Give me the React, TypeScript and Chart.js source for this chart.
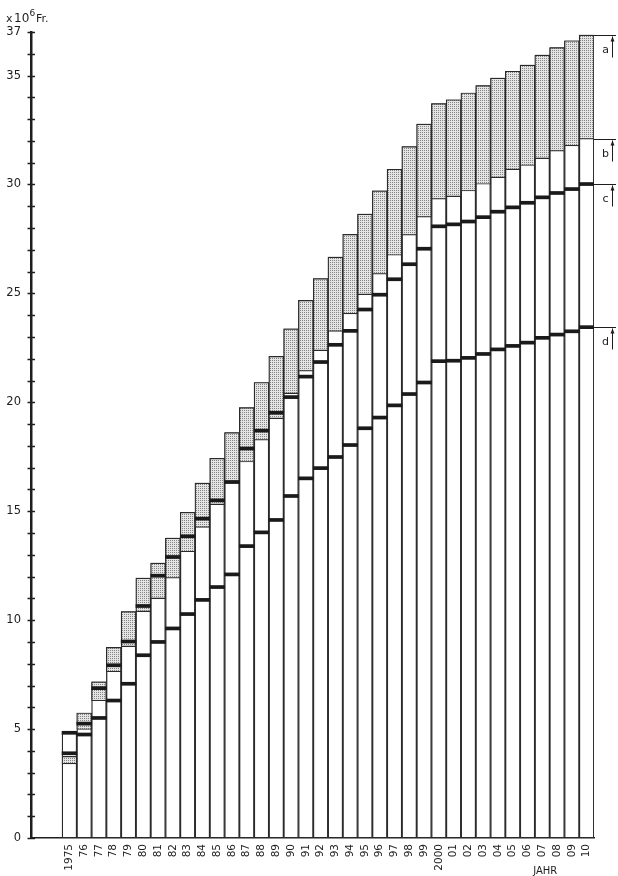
import React, { useEffect, useRef } from 'react';
import { Chart, registerables } from 'chart.js';

Chart.register(...registerables);

// ---- data (values in 10^6 Fr.) ----
const yearLabels = [
  '1975', '76', '77', '78', '79', '80', '81', '82', '83', '84', '85', '86',
  '87', '88', '89', '90', '91', '92', '93', '94', '95', '96', '97', '98', '99',
  '2000', '01', '02', '03', '04', '05', '06', '07', '08', '09', '10',
];

// a: top of the dotted band
const seriesA = [
  3.75, 5.74, 7.17, 8.75, 10.39, 11.93, 12.62, 13.77, 14.95, 16.29, 17.43, 18.61,
  19.76, 20.91, 22.11, 23.37, 24.68, 25.68, 26.67, 27.71, 28.64, 29.71, 30.70, 31.74, 32.77,
  33.71, 33.89, 34.20, 34.54, 34.88, 35.20, 35.48, 35.94, 36.28, 36.60, 36.86,
];
// b: bottom of the dotted band (thin line)
const seriesB = [
  3.40, 4.98, 6.30, 7.63, 8.78, 10.39, 10.99, 11.93, 13.14, 14.26, 15.30, 16.36,
  17.26, 18.26, 19.25, 20.40, 21.43, 22.37, 23.26, 24.06, 24.94, 25.88, 26.75, 27.67, 28.50,
  29.33, 29.44, 29.70, 30.01, 30.31, 30.68, 30.87, 31.19, 31.53, 31.77, 32.08,
];
// c: upper thick line
const seriesC = [
  3.89, 5.25, 6.88, 7.93, 9.02, 10.65, 12.04, 12.90, 13.85, 14.66, 15.50, 16.34,
  17.88, 18.70, 19.52, 20.24, 21.18, 21.85, 22.64, 23.28, 24.26, 24.94, 25.65, 26.34, 27.05,
  28.08, 28.17, 28.30, 28.50, 28.75, 28.95, 29.16, 29.41, 29.61, 29.79, 30.02,
];
// d: lower thick line
const seriesD = [
  4.83, 4.75, 5.51, 6.31, 7.08, 8.39, 9.00, 9.62, 10.28, 10.93, 11.52, 12.10,
  13.40, 14.03, 14.60, 15.70, 16.51, 16.98, 17.49, 18.04, 18.81, 19.30, 19.86, 20.38, 20.91,
  21.89, 21.91, 22.04, 22.22, 22.43, 22.59, 22.74, 22.96, 23.11, 23.26, 23.45,
];

const yTickValues = [0, 5, 10, 15, 20, 25, 30, 35, 37];
const yMax = 37;
const sideLabels = ['a', 'b', 'c', 'd'];
const unitText = { x: 'x', base: '10', exp: '6', unit: 'Fr.' };
const xAxisTitle = 'JAHR';

const INK = '#1e1e1e';
const FONT = '"DejaVu Sans", sans-serif';
const LINE_HALF = 0.07;

function makeStipple(ctx: CanvasRenderingContext2D) {
  const c = document.createElement('canvas');
  c.width = 2;
  c.height = 2;
  const g = c.getContext('2d')!;
  g.fillStyle = '#e4e4e4';
  g.fillRect(0, 0, 2, 2);
  g.fillStyle = '#858585';
  g.fillRect(0, 0, 1, 1);
  return ctx.createPattern(c, 'repeat');
}

const decorPlugin = {
  id: 'decor',
  afterDraw(chart: any) {
    const { ctx, chartArea, scales } = chart;
    const x = scales.x;
    const y = scales.y;
    ctx.save();
    // y axis tick marks crossing the axis
    ctx.strokeStyle = INK;
    ctx.lineWidth = 1.5;
    for (let v = 0; v <= yMax; v++) {
      const py = Math.round(y.getPixelForValue(v)) + 0.5;
      ctx.beginPath();
      ctx.moveTo(chartArea.left - 3.5, py);
      ctx.lineTo(chartArea.left + 4, py);
      ctx.stroke();
    }
    // unit label
    ctx.fillStyle = INK;
    ctx.textBaseline = 'alphabetic';
    ctx.textAlign = 'left';
    ctx.font = `11px ${FONT}`;
    ctx.fillText(unitText.x, 6, 22);
    ctx.font = `12px ${FONT}`;
    ctx.fillText(unitText.base, 14, 22);
    ctx.font = `9px ${FONT}`;
    ctx.fillText(unitText.exp, 29.5, 16);
    ctx.font = `11px ${FONT}`;
    ctx.fillText(unitText.unit, 36, 22);

    // side markers a..d
    const last = yearLabels.length - 1;
    const right = x.getPixelForValue(last + 0.5);
    const levels = [seriesA[last], seriesB[last], seriesC[last], seriesD[last]];
    ctx.lineWidth = 1;
    levels.forEach((v, k) => {
      const py = Math.round(y.getPixelForValue(v)) + 0.5;
      ctx.strokeStyle = INK;
      ctx.beginPath();
      ctx.moveTo(right, py);
      ctx.lineTo(right + 22, py);
      ctx.stroke();
      const ax = right + 18.5;
      ctx.beginPath();
      ctx.moveTo(ax, py + 22);
      ctx.lineTo(ax, py + 1);
      ctx.stroke();
      ctx.beginPath();
      ctx.moveTo(ax - 2, py + 6);
      ctx.lineTo(ax, py + 1);
      ctx.lineTo(ax + 2, py + 6);
      ctx.closePath();
      ctx.fillStyle = INK;
      ctx.fill();
      ctx.font = `11px ${FONT}`;
      ctx.textAlign = 'center';
      ctx.textBaseline = 'middle';
      ctx.fillText(sideLabels[k], right + 11.5, py + 15);
    });

    // x axis title
    ctx.font = `10px ${FONT}`;
    ctx.textAlign = 'center';
    ctx.textBaseline = 'alphabetic';
    ctx.fillText(xAxisTitle, x.getPixelForValue(32.2), 874);
    ctx.restore();
  },
};

export default function App() {
  const ref = useRef<HTMLCanvasElement | null>(null);

  useEffect(() => {
    document.body.style.margin = '0';
    const canvas = ref.current!;
    const ctx = canvas.getContext('2d')!;
    const stipple = makeStipple(ctx);

    const baseData = yearLabels.map((_, i) => ({
      x: i,
      y: [0, Math.max(seriesA[i], seriesC[i], seriesD[i])],
    }));
    const bandData = yearLabels.map((_, i) => ({ x: i, y: [seriesB[i], seriesA[i]] }));
    const cData = yearLabels.map((_, i) => ({ x: i, y: [seriesC[i] - LINE_HALF, seriesC[i] + LINE_HALF] }));
    const dData = yearLabels.map((_, i) => ({ x: i, y: [seriesD[i] - LINE_HALF, seriesD[i] + LINE_HALF] }));

    const common = {
      grouped: false,
      barPercentage: 1,
      categoryPercentage: 1,
      borderSkipped: false,
    };

    const chart = new Chart(ctx, {
      type: 'bar',
      data: {
        datasets: [
          {
            ...common,
            label: 'total',
            data: baseData as any,
            backgroundColor: '#ffffff',
            borderColor: '#2a2a2a',
            borderWidth: 1.3,
            order: 4,
          },
          {
            ...common,
            label: 'a-b',
            data: bandData as any,
            backgroundColor: stipple as any,
            borderColor: '#2a2a2a',
            borderWidth: 1.2,
            order: 3,
          },
          {
            ...common,
            label: 'c',
            data: cData as any,
            backgroundColor: '#1a1a1a',
            borderWidth: 0,
            order: 2,
          },
          {
            ...common,
            label: 'd',
            data: dData as any,
            backgroundColor: '#1a1a1a',
            borderWidth: 0,
            order: 1,
          },
        ] as any,
      },
      options: {
        animation: false,
        responsive: false,
        devicePixelRatio: 1,
        layout: { padding: { top: 32, right: 24, left: 0, bottom: 0 } },
        plugins: { legend: { display: false }, tooltip: { enabled: false }, title: { display: false } },
        scales: {
          x: {
            type: 'linear',
            min: -2.6,
            max: yearLabels.length - 0.5,
            offset: false,
            grid: { display: false, drawTicks: false },
            border: { display: true, color: '#1e1e1e', width: 1.5 },
            afterBuildTicks: (scale: any) => {
              scale.ticks = yearLabels.map((_, i) => ({ value: i }));
            },
            afterFit: (scale: any) => {
              scale.height = 38;
            },
            ticks: {
              autoSkip: false,
              minRotation: 90,
              maxRotation: 90,
              padding: 6,
              color: INK,
              font: { family: FONT, size: 10.5 },
              callback: (value: any) => yearLabels[Math.round(Number(value))] ?? '',
            },
          },
          y: {
            type: 'linear',
            min: 0,
            max: yMax,
            grid: { display: false, drawTicks: false },
            border: { display: true, color: '#1e1e1e', width: 2.5 },
            afterBuildTicks: (scale: any) => {
              scale.ticks = yTickValues.map((v) => ({ value: v }));
            },
            afterFit: (scale: any) => {
              scale.width = 31;
            },
            ticks: {
              padding: 10,
              color: INK,
              font: { family: FONT, size: 11.5 },
              callback: (value: any) => String(value),
            },
          },
        },
      } as any,
      plugins: [decorPlugin],
    });
    return () => chart.destroy();
  }, []);

  return (
    <div style={{ position: 'absolute', left: 0, top: 0, width: 618, height: 876, background: '#fff' }}>
      <canvas ref={ref} width={618} height={876} style={{ display: 'block' }} />
    </div>
  );
}
